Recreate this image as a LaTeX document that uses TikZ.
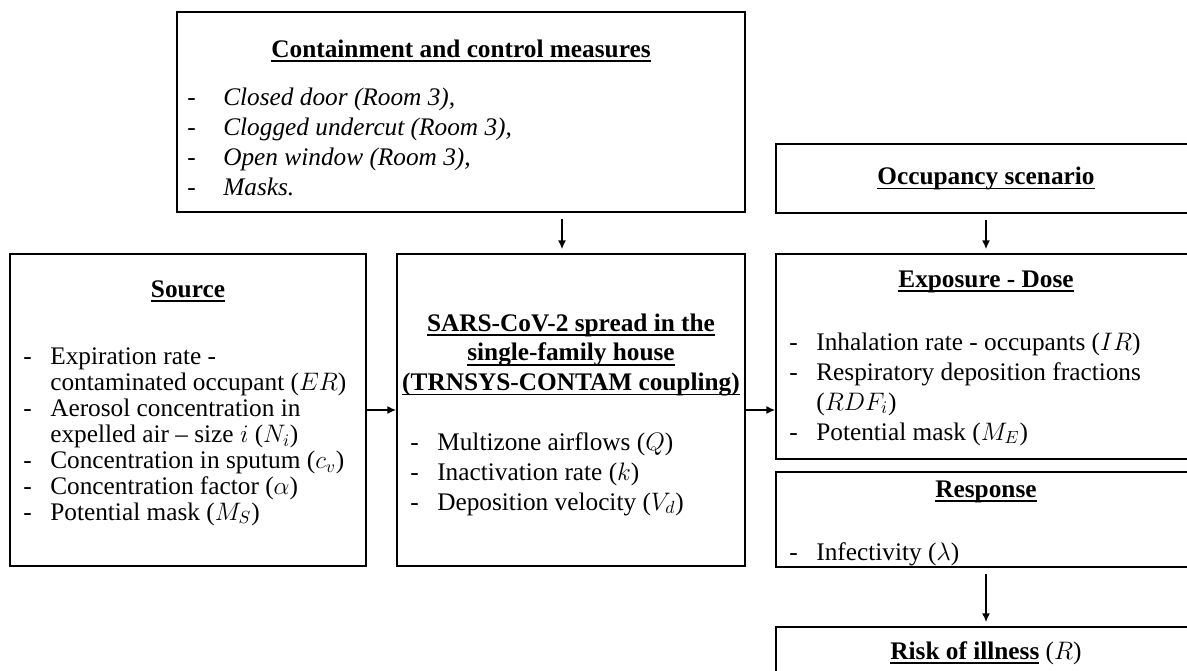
\documentclass[tikz,border=0pt]{standalone}
\usepackage{fontspec}
\setmainfont{Liberation Serif}
\usetikzlibrary{arrows.meta}
\newsavebox{\hulbox}
\newcommand{\hul}[1]{\sbox{\hulbox}{#1}\rlap{\rule[-2.6pt]{\wd\hulbox}{0.9pt}}\usebox{\hulbox}}
\newcommand{\bodyfont}{\fontsize{14.4}{17}\selectfont}
\newcommand{\dsh}[1][0.54cm]{\makebox[#1][l]{-}}
\newcommand{\cnt}{\hspace*{0.54cm}}

\begin{document}
\begin{tikzpicture}[x=0.02cm,y=-0.02cm,font=\bodyfont,
 box/.style={draw,line width=1pt,inner sep=0pt},
 head/.style={font=\bodyfont\bfseries,anchor=base,align=center},
 lst/.style={anchor=base west,align=left,inner sep=0pt},
 arr/.style={-{Latex[length=5pt,width=4.5pt]},line width=0.8pt},
 vgap/.style={shorten <=0.12cm,shorten >=0.08cm}]
 \clip (0,0) rectangle (1187,670);
 \node[box,minimum width=11.36cm,minimum height=4cm] (ctrl) at (461,112) {};
 \node[box,minimum width=7.12cm,minimum height=6.24cm] (src) at (188,410) {};
 \node[box,minimum width=6.96cm,minimum height=6.24cm] (sars) at (571,410) {};
 \node[box,minimum width=8.4cm,minimum height=1.38cm,font=\bodyfont\bfseries] (occ) at (986,178.5) {\hul{Occupancy scenario}};
 \node[box,minimum width=8.4cm,minimum height=4.1cm] (expo) at (986,356.5) {};
 \node[box,minimum width=8.4cm,minimum height=1.9cm] (resp) at (986,519.5) {};
 \node[box,minimum width=8.4cm,minimum height=1.04cm] (risk) at (986,653) {\hul{\textbf{Risk of illness}} ($R$)};

 \node[head] (ctrl-h) at (461,57) {\hul{Containment and control measures}};
 \node[lst,font=\bodyfont\itshape] (ctrl-l) at (187,195) {\dsh[0.72cm]Closed door (Room 3),\\
  \dsh[0.72cm]Clogged undercut (Room 3),\\
  \dsh[0.72cm]Open window (Room 3),\\
  \dsh[0.72cm]Masks.};

 \node[head] (src-h) at (188,297) {\hul{Source}};
 \node[lst,font=\fontsize{14.4}{14.74}\selectfont] (src-l) at (23,520) {\dsh Expiration rate -\\
  \cnt contaminated occupant ($ER$)\\
  \dsh Aerosol concentration in\\
  \cnt expelled air -- size $i$ ($N_i$)\\
  \dsh Concentration in sputum ($c_v$)\\
  \dsh Concentration factor ($\alpha$)\\
  \dsh Potential mask ($M_S$)};

 \node[head,anchor=center] (sars-h) at (571,355) {\hul{SARS-CoV-2 spread in the}\\
  \hul{single-family house}\\
  \hul{(TRNSYS-CONTAM coupling)}};
 \node[lst] (sars-l) at (410,510) {\dsh Multizone airflows ($Q$)\\
  \dsh Inactivation rate ($k$)\\
  \dsh Deposition velocity ($V_d$)};

 \node[head] (expo-h) at (986,287) {\hul{Exposure - Dose}};
 \node[lst] (expo-l) at (789,440) {\dsh Inhalation rate - occupants ($IR$)\\
  \dsh Respiratory deposition fractions\\
  \cnt ($RDF_i$)\\
  \dsh Potential mask ($M_E$)};

 \node[head] (resp-h) at (986,497) {\hul{Response}};
 \node[lst] (resp-l) at (789,560) {\dsh Infectivity ($\lambda$)};

 \coordinate (ctrl-x) at (562,0);
 \draw[arr,vgap] (ctrl.south -| ctrl-x) -- (sars.north -| ctrl-x);
 \draw[arr] (src) -- (sars);
 \draw[arr] (sars.east) -- (sars.east -| expo.west);
 \draw[arr,vgap] (occ) -- (expo);
 \draw[arr,vgap] (resp) -- (risk);
\end{tikzpicture}
\end{document}
